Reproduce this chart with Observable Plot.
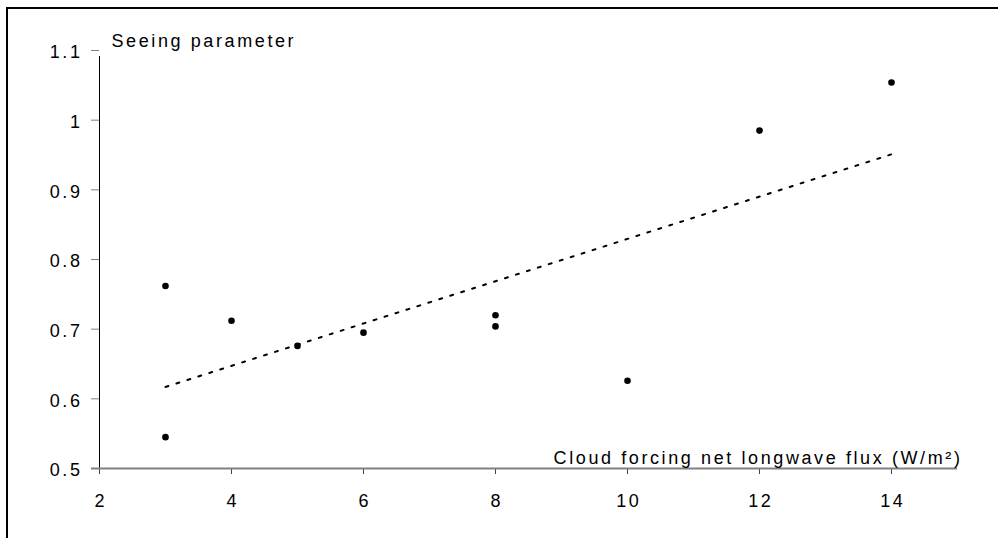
<!DOCTYPE html>
<html><head><meta charset="utf-8">
<script src="https://cdn.jsdelivr.net/npm/d3@7"></script>
<script src="https://cdn.jsdelivr.net/npm/@observablehq/plot@0.6"></script>
<style>
html,body{margin:0;padding:0;background:#fff;}
#wrap{position:relative;width:998px;height:538px;overflow:hidden;}
#border{position:absolute;left:6px;top:7px;width:1100px;height:700px;border-top:2px solid #000;border-left:2px solid #000;pointer-events:none;}
</style></head><body>
<div id="wrap"></div>
<script>
const cloudForcing = [3, 3, 4, 5, 6, 8, 8, 10, 12, 14];
const seeing = [0.545, 0.762, 0.712, 0.676, 0.695, 0.720, 0.704, 0.626, 0.985, 1.054];
const trendX = [3, 14];
const trendY = [0.617, 0.951];
const xTicks = [2, 4, 6, 8, 10, 12, 14];
const yTicks = [0.5, 0.6, 0.7, 0.8, 0.9, 1, 1.1];
const xDomain = [2, 15];
const yDomain = [0.5, 1.1];
const xLabel = "Cloud forcing net longwave flux (W/m²)";
const yLabel = "Seeing parameter";

const points = cloudForcing.map((x, i) => ({x, y: seeing[i]}));
const trend = trendX.map((x, i) => ({x, y: trendY[i]}));

const chart = Plot.plot({
  width: 998,
  height: 538,
  marginLeft: 99,
  marginRight: 41,
  marginTop: 50,
  marginBottom: 70,
  style: {fontFamily: "'Liberation Sans', Arial, sans-serif", fontSize: "18px", letterSpacing: "2.6px", background: "#fff", color: "#000"},
  x: {domain: xDomain, axis: null},
  y: {domain: yDomain, axis: null},
  marks: [
    // y ticks
    Plot.axisY(yTicks, {label: null, tickSize: 8, stroke: "#808080", strokeWidth: 1, tickFormat: () => ""}),
    // y tick labels
    Plot.axisY(yTicks, {label: null, tickSize: 0, tickPadding: 17, dy: 2, tickFormat: d => String(d), fill: "#000"}),
    // x ticks
    Plot.axisX(xTicks, {label: null, tickSize: 6, stroke: "#444", strokeWidth: 1, tickFormat: () => ""}),
    // x tick labels
    Plot.axisX(xTicks, {label: null, tickSize: 0, tickPadding: 26, dx: 1.3, tickFormat: d => String(d), fill: "#000"}),
    // y axis line
    Plot.ruleX([xDomain[0]], {y1: yDomain[0], y2: yDomain[1], stroke: "#000", strokeWidth: 1, insetBottom: -6}),
    // x axis line
    Plot.ruleY([yDomain[0]], {x1: xDomain[0], x2: xDomain[1], stroke: "#808080", strokeWidth: 2, insetLeft: -8}),
    // trend line
    Plot.line(trend, {x: "x", y: "y", stroke: "#000", strokeWidth: 2, strokeDasharray: "3,8.5"}),
    // points
    Plot.dot(points, {x: "x", y: "y", r: 3.3, fill: "#000", stroke: null}),
    // axis titles
    Plot.text([yLabel], {text: d => d, frameAnchor: "top-left", textAnchor: "start", lineAnchor: "bottom", dx: 12, dy: -4, fill: "#000"}),
    Plot.text([xLabel], {text: d => d, frameAnchor: "bottom-right", textAnchor: "end", lineAnchor: "bottom", dx: 5, dy: -5, fill: "#000"})
  ]
});
const wrap = document.getElementById("wrap");
wrap.appendChild(chart);
const b = document.createElement("div");
b.id = "border";
wrap.appendChild(b);
</script>
</body></html>
